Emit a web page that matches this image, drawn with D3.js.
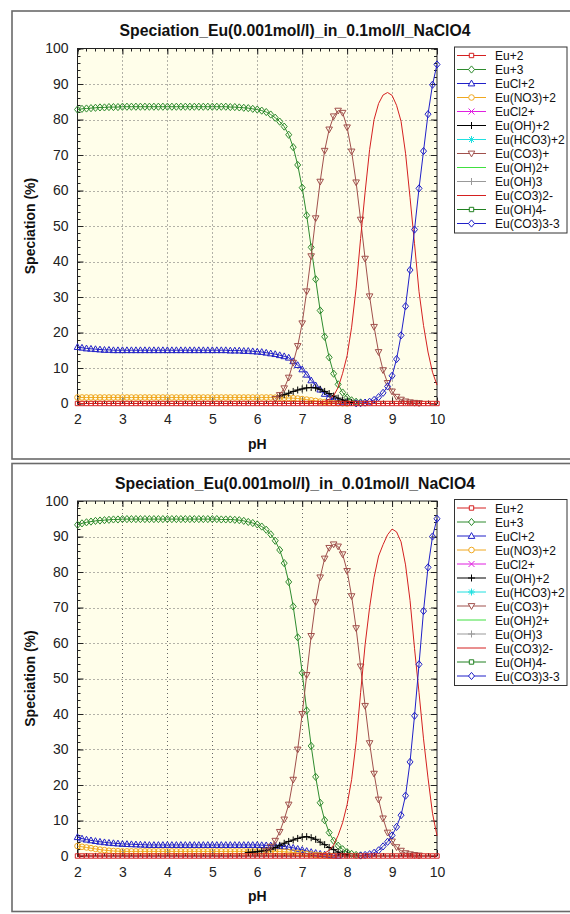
<!DOCTYPE html>
<html>
<head>
<meta charset="utf-8">
<script src="https://cdn.jsdelivr.net/npm/d3@7"></script>
<style>
  html, body { margin: 0; padding: 0; background: #ffffff; }
  svg { display: block; font-family: "Liberation Sans", Arial, sans-serif; }
</style>
</head>
<body>
<script>
// ---------------- DATA ----------------
const PH = [
  2.0,2.1,2.2,2.3,2.4,2.5,2.6,2.7,2.8,2.9,
  3.0,3.1,3.2,3.3,3.4,3.5,3.6,3.7,3.8,3.9,
  4.0,4.1,4.2,4.3,4.4,4.5,4.6,4.7,4.8,4.9,
  5.0,5.1,5.2,5.3,5.4,5.5,5.6,5.7,5.8,5.9,
  6.0,6.1,6.2,6.3,6.4,6.5,6.6,6.7,6.8,6.9,
  7.0,7.1,7.2,7.3,7.4,7.5,7.6,7.7,7.8,7.9,
  8.0,8.1,8.2,8.3,8.4,8.5,8.6,8.7,8.8,8.9,
  9.0,9.1,9.2,9.3,9.4,9.5,9.6,9.7,9.8,9.9,
  10.0
];
const SPECIES = ["Eu+2","Eu+3","EuCl+2","Eu(NO3)+2","EuCl2+","Eu(OH)+2","Eu(HCO3)+2",
                 "Eu(CO3)+","Eu(OH)2+","Eu(OH)3","Eu(CO3)2-","Eu(OH)4-","Eu(CO3)3-3"];
const X_TICKS = [2,3,4,5,6,7,8,9,10];
const Y_TICKS = [0,10,20,30,40,50,60,70,80,90,100];
const TITLES = ["Speciation_Eu(0.001mol/l)_in_0.1mol/l_NaClO4",
                "Speciation_Eu(0.001mol/l)_in_0.01mol/l_NaClO4"];
const X_LABEL = "pH";
const Y_LABEL = "Speciation (%)";

// ---- panel 1 : 0.1 mol/l NaClO4 ----
const EU2_T = [
  0,0,0,0,0,0,0,0,0,0, 0,0,0,0,0,0,0,0,0,0, 0,0,0,0,0,0,0,0,0,0, 0,0,0,0,0,0,0,0,0,0,
  0,0,0,0,0,0,0,0,0,0, 0,0,0,0,0,0,0,0,0,0, 0,0,0,0,0,0,0,0,0,0, 0,0,0,0,0,0,0,0,0,0, 0];
const EU3_T = [
  82.8,83.0,83.1,83.2,83.3,83.4,83.4,83.5,83.5,83.5,
  83.6,83.6,83.6,83.6,83.6,83.6,83.6,83.6,83.6,83.6,
  83.6,83.6,83.6,83.6,83.6,83.6,83.6,83.6,83.6,83.6,
  83.6,83.6,83.6,83.6,83.5,83.5,83.4,83.3,83.2,83.0,
  82.8,82.5,82.1,81.4,80.5,79.4,78.0,75.7,72.2,67.2,
  60.8,53.0,44.0,35.0,26.2,18.8,13.0,8.4,5.4,3.1,
  1.7,0.9,0.5,0.3,null,null,null,null,null,null,
  null,null,null,null,null,null,null,null,null,null, null];
const EUCL_T = [
  15.9,15.7,15.5,15.4,15.3,15.2,15.1,15.1,15.0,15.0,
  15.0,15.0,15.0,15.0,15.0,15.0,15.0,15.0,15.0,15.0,
  15.0,15.0,15.0,15.0,15.0,15.0,15.0,15.0,15.0,15.0,
  15.0,15.0,15.0,15.0,14.9,14.9,14.9,14.8,14.8,14.7,
  14.6,14.5,14.3,14.1,13.9,13.6,13.3,12.9,11.9,10.8,
  9.6,8.1,6.5,5.1,3.9,2.7,1.8,1.1,0.6,0.3,
  0.15,null,null,null,null,null,null,null,null,null,
  null,null,null,null,null,null,null,null,null,null, null];
const EUNO3_T = [
  1.7,1.7,1.7,1.7,1.7,1.7,1.7,1.7,1.7,1.7,
  1.7,1.7,1.7,1.7,1.7,1.7,1.7,1.7,1.7,1.7,
  1.7,1.7,1.7,1.7,1.7,1.7,1.7,1.7,1.7,1.7,
  1.7,1.7,1.7,1.7,1.7,1.7,1.7,1.7,1.7,1.7,
  1.7,1.7,1.7,1.7,1.65,1.6,1.6,1.55,1.5,1.4,
  1.25,1.1,0.9,0.72,0.54,0.38,0.26,0.17,0.11,0.07,
  0.04,null,null,null,null,null,null,null,null,null,
  null,null,null,null,null,null,null,null,null,null, null];
const EUOH_T = [
  null,null,null,null,null,null,null,null,null,null,
  null,null,null,null,null,null,null,null,null,null,
  null,null,null,null,null,null,null,null,null,null,
  null,null,null,null,null,null,null,null,null,null,
  null,null,null,null,null,2.1,2.5,2.9,3.4,3.8,
  4.1,4.4,4.5,4.4,4.0,3.4,2.8,2.1,1.5,1.0,
  0.6,0.3,null,null,null,null,null,null,null,null,
  null,null,null,null,null,null,null,null,null,null, null];
const EUCO3_T = [
  null,null,null,null,null,null,null,null,null,null,
  null,null,null,null,null,null,null,null,null,null,
  null,null,null,null,null,null,null,null,null,null,
  null,null,null,null,null,null,null,null,null,null,
  null,null,null,null,1.3,2.4,4.3,7.3,11.5,16.2,
  22.6,31.6,41.5,52.2,62.5,71.2,77.2,80.9,82.5,81.9,
  77.8,71.0,62.3,51.8,40.8,30.2,21.6,14.5,9.4,5.8,
  3.4,1.9,1.1,0.6,0.35,0.2,0.1,null,null,null, null];
const EUCO32_T = [
  null,null,null,null,null,null,null,null,null,null,
  null,null,null,null,null,null,null,null,null,null,
  null,null,null,null,null,null,null,null,null,null,
  null,null,null,null,null,null,null,null,null,null,
  null,null,null,null,null,null,null,null,null,null,
  null,null,null,null,0.3,0.6,1.2,2.2,4.5,8.5,
  13.5,21.5,32.5,46.5,59.5,71.5,80.0,84.5,86.9,87.6,
  86.8,84.0,79.5,70.5,58.0,45.0,31.5,22.0,14.5,8.8, 5.2];
const EUCO33_T = [
  null,null,null,null,null,null,null,null,null,null,
  null,null,null,null,null,null,null,null,null,null,
  null,null,null,null,null,null,null,null,null,null,
  null,null,null,null,null,null,null,null,null,null,
  null,null,null,null,null,null,null,null,null,null,
  null,null,null,null,null,null,null,null,null,null,
  null,null,0.05,0.1,0.25,0.5,1.0,1.8,3.0,4.8,
  7.8,12.5,19.2,27.4,37.6,49.0,60.6,71.1,81.5,89.8, 95.5];

// ---- panel 2 : 0.01 mol/l NaClO4 ----
const EU2_B = [
  0,0,0,0,0,0,0,0,0,0, 0,0,0,0,0,0,0,0,0,0, 0,0,0,0,0,0,0,0,0,0, 0,0,0,0,0,0,0,0,0,0,
  0,0,0,0,0,0,0,0,0,0, 0,0,0,0,0,0,0,0,0,0, 0,0,0,0,0,0,0,0,0,0, 0,0,0,0,0,0,0,0,0,0, 0];
const EU3_B = [
  93.3,93.7,94.0,94.2,94.4,94.5,94.6,94.7,94.8,94.8,
  94.9,94.9,94.9,94.9,94.9,94.9,94.9,94.9,94.9,94.9,
  94.9,94.9,94.9,94.9,94.9,94.9,94.9,94.9,94.9,94.9,
  94.9,94.9,94.8,94.8,94.8,94.7,94.6,94.4,94.1,93.8,
  93.4,92.8,91.9,90.6,88.8,86.2,82.5,77.2,70.3,61.6,
  51.6,41.0,31.0,22.3,15.0,10.1,6.6,4.3,2.9,1.9,
  1.1,0.6,0.3,0.15,null,null,null,null,null,null,
  null,null,null,null,null,null,null,null,null,null, null];
const EUCL_B = [
  5.3,4.9,4.6,4.4,4.2,4.0,3.85,3.7,3.6,3.5,
  3.4,3.35,3.3,3.25,3.2,3.15,3.1,3.1,3.1,3.1,
  3.1,3.1,3.1,3.1,3.1,3.1,3.1,3.1,3.1,3.1,
  3.1,3.1,3.1,3.1,3.1,3.1,3.1,3.1,3.1,3.1,
  3.1,3.05,3.0,2.95,2.85,2.75,2.65,2.5,2.3,2.0,
  1.7,1.4,1.1,0.85,0.6,0.4,0.25,0.15,0.08,null,
  null,null,null,null,null,null,null,null,null,null,
  null,null,null,null,null,null,null,null,null,null, null];
const EUNO3_B = [
  2.8,2.6,2.4,2.2,2.0,1.8,1.65,1.5,1.4,1.35,
  1.3,1.3,1.3,1.3,1.3,1.3,1.3,1.3,1.3,1.3,
  1.3,1.3,1.3,1.3,1.3,1.3,1.3,1.3,1.3,1.3,
  1.3,1.3,1.3,1.3,1.3,1.3,1.3,1.3,1.3,1.3,
  1.3,1.3,1.3,1.3,1.3,1.25,1.2,1.1,1.0,0.88,
  0.75,0.6,0.45,0.32,0.22,0.15,0.1,0.06,null,null,
  null,null,null,null,null,null,null,null,null,null,
  null,null,null,null,null,null,null,null,null,null, null];
const EUOH_B = [
  null,null,null,null,null,null,null,null,null,null,
  null,null,null,null,null,null,null,null,null,null,
  null,null,null,null,null,null,null,null,null,null,
  null,null,null,null,null,null,null,null,1.0,1.1,
  1.2,1.4,1.6,1.9,2.4,3.0,3.6,4.1,4.5,4.95,
  5.3,5.45,5.15,4.7,3.9,3.2,2.4,1.8,1.1,0.6,
  0.3,null,null,null,null,null,null,null,null,null,
  null,null,null,null,null,null,null,null,null,null, null];
const EUCO3_B = [
  null,null,null,null,null,null,null,null,null,null,
  null,null,null,null,null,null,null,null,null,null,
  null,null,null,null,null,null,null,null,null,null,
  null,null,null,null,null,null,null,null,null,null,
  null,null,1.5,2.6,4.3,6.8,10.3,14.5,21.5,30.0,
  40.0,51.0,62.0,71.5,78.5,83.8,86.8,87.8,87.2,85.0,
  80.3,73.2,64.2,53.4,42.3,31.8,23.2,15.9,10.6,6.6,
  4.1,2.5,1.5,0.8,0.5,0.3,0.15,null,null,null, null];
const EUCO32_B = [
  null,null,null,null,null,null,null,null,null,null,
  null,null,null,null,null,null,null,null,null,null,
  null,null,null,null,null,null,null,null,null,null,
  null,null,null,null,null,null,null,null,null,null,
  null,null,null,null,null,null,null,null,null,null,
  null,null,null,null,0.4,0.8,1.6,3.1,5.8,9.4,
  14.5,21.5,32.0,46.0,59.5,70.0,78.5,84.5,87.7,90.5,
  92.1,91.3,88.5,82.0,72.0,58.5,46.0,33.0,22.0,12.0, 5.7];
const EUCO33_B = [
  null,null,null,null,null,null,null,null,null,null,
  null,null,null,null,null,null,null,null,null,null,
  null,null,null,null,null,null,null,null,null,null,
  null,null,null,null,null,null,null,null,null,null,
  null,null,null,null,null,null,null,null,null,null,
  null,null,null,null,null,null,null,null,null,null,
  null,null,null,0.15,0.3,0.5,0.9,1.6,2.7,4.0,
  5.8,8.2,11.5,17.0,26.5,39.5,54.0,69.0,81.3,90.0, 95.0];

// species below plotting threshold in both media (no points drawn)
const EUCL2_T = [], EUHCO3_T = [], EUOH2_T = [], EUOH3_T = [], EUOH4_T = [];
const EUCL2_B = [], EUHCO3_B = [], EUOH2_B = [], EUOH3_B = [], EUOH4_B = [];

const PANEL_DATA = [
  [EU2_T, EU3_T, EUCL_T, EUNO3_T, EUCL2_T, EUOH_T, EUHCO3_T, EUCO3_T, EUOH2_T, EUOH3_T, EUCO32_T, EUOH4_T, EUCO33_T],
  [EU2_B, EU3_B, EUCL_B, EUNO3_B, EUCL2_B, EUOH_B, EUHCO3_B, EUCO3_B, EUOH2_B, EUOH3_B, EUCO32_B, EUOH4_B, EUCO33_B]
];

// ---------------- STYLE ----------------
const STYLE = [
  {color:"#d42020", marker:"square"},
  {color:"#2e8b2e", marker:"diamond"},
  {color:"#2020c8", marker:"triUp"},
  {color:"#f0a820", marker:"circle"},
  {color:"#e020e0", marker:"cross"},
  {color:"#000000", marker:"plus"},
  {color:"#20e0e0", marker:"star"},
  {color:"#a0504c", marker:"triDown"},
  {color:"#40e040", marker:null},
  {color:"#999999", marker:"plus"},
  {color:"#d42020", marker:null},
  {color:"#208020", marker:"square"},
  {color:"#2020c8", marker:"diamond"}
];
const MARK = {
  square:  "M-2.2,-2.2h4.4v4.4h-4.4z",
  diamond: "M0,-3.6L3,0L0,3.6L-3,0Z",
  triUp:   "M0,-3.4L3.3,2.4L-3.3,2.4Z",
  triDown: "M0,3.4L3.3,-2.4L-3.3,-2.4Z",
  circle:  "M-2.8,0a2.8,2.8 0 1,0 5.6,0a2.8,2.8 0 1,0 -5.6,0",
  plus:    "M-3.5,0H3.5M0,-3.5V3.5",
  cross:   "M-3,-3L3,3M-3,3L3,-3",
  star:    "M-3.5,0H3.5M0,-3.5V3.5M-2.5,-2.5L2.5,2.5M-2.5,2.5L2.5,-2.5"
};

const W = 570, H = 914;
const svg = d3.select("body").append("svg").attr("width", W).attr("height", H);

const PX0 = 77.5, PX1 = 437, PY0 = 48.5, PY1 = 403.5;
const OFFSETS = [0, 452.5];
const TITLE_W = [351, 360];

OFFSETS.forEach((o, pi) => {
  const g = svg.append("g");
  // panel frame
  g.append("rect").attr("x", 12).attr("y", 11 + o).attr("width", 580).attr("height", 448)
    .attr("fill", "#ffffff").attr("stroke", "#6a6a6a").attr("stroke-width", 1.6);

  const x = d3.scaleLinear().domain([2, 10]).range([PX0, PX1]);
  const y = d3.scaleLinear().domain([0, 100]).range([PY1 + o, PY0 + o]);

  // title
  g.append("text").attr("x", 295 - TITLE_W[pi] / 2).attr("y", 36 + o)
    .attr("textLength", TITLE_W[pi]).attr("lengthAdjust", "spacingAndGlyphs")
    .attr("font-size", 16).attr("font-weight", "bold").attr("fill", "#111").text(TITLES[pi]);

  // plot background
  g.append("rect").attr("x", PX0).attr("y", PY0 + o).attr("width", PX1 - PX0).attr("height", PY1 - PY0)
    .attr("fill", "#fffeea");

  // grid
  const grid = g.append("g").attr("stroke", "#666").attr("stroke-width", 1).attr("stroke-dasharray", "1,3");
  X_TICKS.slice(1, -1).forEach(t => grid.append("line")
    .attr("x1", Math.round(x(t)) + 0.5).attr("x2", Math.round(x(t)) + 0.5).attr("y1", y(100)).attr("y2", y(0)));
  Y_TICKS.slice(1, -1).forEach(t => grid.append("line")
    .attr("y1", Math.round(y(t)) + 0.5).attr("y2", Math.round(y(t)) + 0.5).attr("x1", x(2)).attr("x2", x(10)));

  // minor ticks (inside on all four sides)
  const minor = g.append("g").attr("stroke", "#222").attr("stroke-width", 1);
  d3.range(2, 10.001, 0.2).forEach(t => {
    const xx = Math.round(x(t)) + 0.5;
    minor.append("line").attr("x1", xx).attr("x2", xx).attr("y1", y(0)).attr("y2", y(0) - 3);
    minor.append("line").attr("x1", xx).attr("x2", xx).attr("y1", y(100)).attr("y2", y(100) + 3);
  });
  d3.range(0, 100.001, 2).forEach(t => {
    const yy = Math.round(y(t)) + 0.5;
    minor.append("line").attr("y1", yy).attr("y2", yy).attr("x1", x(2)).attr("x2", x(2) + 3);
    minor.append("line").attr("y1", yy).attr("y2", yy).attr("x1", x(10)).attr("x2", x(10) - 3);
  });

  // axes with major ticks pointing inward
  const axB = g.append("g").attr("transform", `translate(0,${y(0)})`)
    .call(d3.axisBottom(x).tickValues(X_TICKS).tickFormat(d3.format("d")).tickSizeInner(-6).tickSizeOuter(0).tickPadding(11));
  const axL = g.append("g").attr("transform", `translate(${x(2)},0)`)
    .call(d3.axisLeft(y).tickValues(Y_TICKS).tickFormat(d3.format("d")).tickSizeInner(-6).tickSizeOuter(0).tickPadding(9));
  const axT = g.append("g").attr("transform", `translate(0,${y(100)})`)
    .call(d3.axisTop(x).tickValues(X_TICKS).tickFormat("").tickSizeInner(-6).tickSizeOuter(0));
  const axR = g.append("g").attr("transform", `translate(${x(10)},0)`)
    .call(d3.axisRight(y).tickValues(Y_TICKS).tickFormat("").tickSizeInner(-6).tickSizeOuter(0));
  [axB, axL, axT, axR].forEach(a => {
    a.select(".domain").remove();
    a.selectAll("line").attr("stroke", "#222");
    a.selectAll("text").attr("font-size", 14).attr("fill", "#222")
      .attr("font-family", "'Liberation Sans', Arial, sans-serif");
  });

  // plot frame
  g.append("rect").attr("x", PX0).attr("y", PY0 + o).attr("width", PX1 - PX0).attr("height", PY1 - PY0)
    .attr("fill", "none").attr("stroke", "#222").attr("stroke-width", 1);

  // axis labels
  g.append("text").attr("x", (PX0 + PX1) / 2).attr("y", PY1 + o + 45).attr("text-anchor", "middle")
    .attr("font-size", 14).attr("font-weight", "bold").attr("fill", "#111").text(X_LABEL);
  g.append("text").attr("transform", `translate(35,${(PY0 + PY1) / 2 + o}) rotate(-90)`)
    .attr("text-anchor", "middle").attr("font-size", 14).attr("font-weight", "bold").attr("fill", "#111").text(Y_LABEL);

  // series
  const clip = "clip" + pi;
  svg.append("clipPath").attr("id", clip).append("rect")
    .attr("x", PX0 - 4).attr("y", PY0 + o - 4).attr("width", PX1 - PX0 + 8).attr("height", PY1 - PY0 + 8);
  const sg = g.append("g").attr("clip-path", `url(#${clip})`);
  const line = d3.line().defined(d => d.v != null).x(d => x(d.p)).y(d => y(d.v));
  const order = [1,2,3,4,5,6,7,8,9,10,11,12,0];
  order.forEach(si => {
    const vals = PANEL_DATA[pi][si];
    if (!vals.length) return;
    const pts = PH.map((p, i) => ({p, v: vals[i]}));
    const st = STYLE[si];
    sg.append("path").datum(pts).attr("d", line).attr("fill", "none")
      .attr("stroke", st.color).attr("stroke-width", 1);
    if (st.marker) {
      sg.selectAll(null).data(pts.filter(d => d.v != null)).enter().append("path")
        .attr("d", MARK[st.marker])
        .attr("transform", d => `translate(${x(d.p)},${y(d.v)})`)
        .attr("fill", "none").attr("stroke", st.color).attr("stroke-width", 1);
    }
  });

  // legend
  const lg = g.append("g");
  lg.append("rect").attr("x", 454.5).attr("y", 47 + o).attr("width", 112.5).attr("height", 186)
    .attr("fill", "#ffffff").attr("stroke", "#333").attr("stroke-width", 1);
  SPECIES.forEach((name, i) => {
    const ly = 55.5 + o + i * 14;
    const st = STYLE[i];
    lg.append("line").attr("x1", 457).attr("x2", 486).attr("y1", ly).attr("y2", ly)
      .attr("stroke", st.color).attr("stroke-width", 1);
    if (st.marker) lg.append("path").attr("d", MARK[st.marker]).attr("transform", `translate(471.5,${ly})`)
      .attr("fill", "#ffffff").attr("stroke", st.color).attr("stroke-width", 1);
    lg.append("text").attr("x", 495).attr("y", ly + 4.5).attr("font-size", 12).attr("fill", "#111").text(name);
  });
});
</script>
</body>
</html>
